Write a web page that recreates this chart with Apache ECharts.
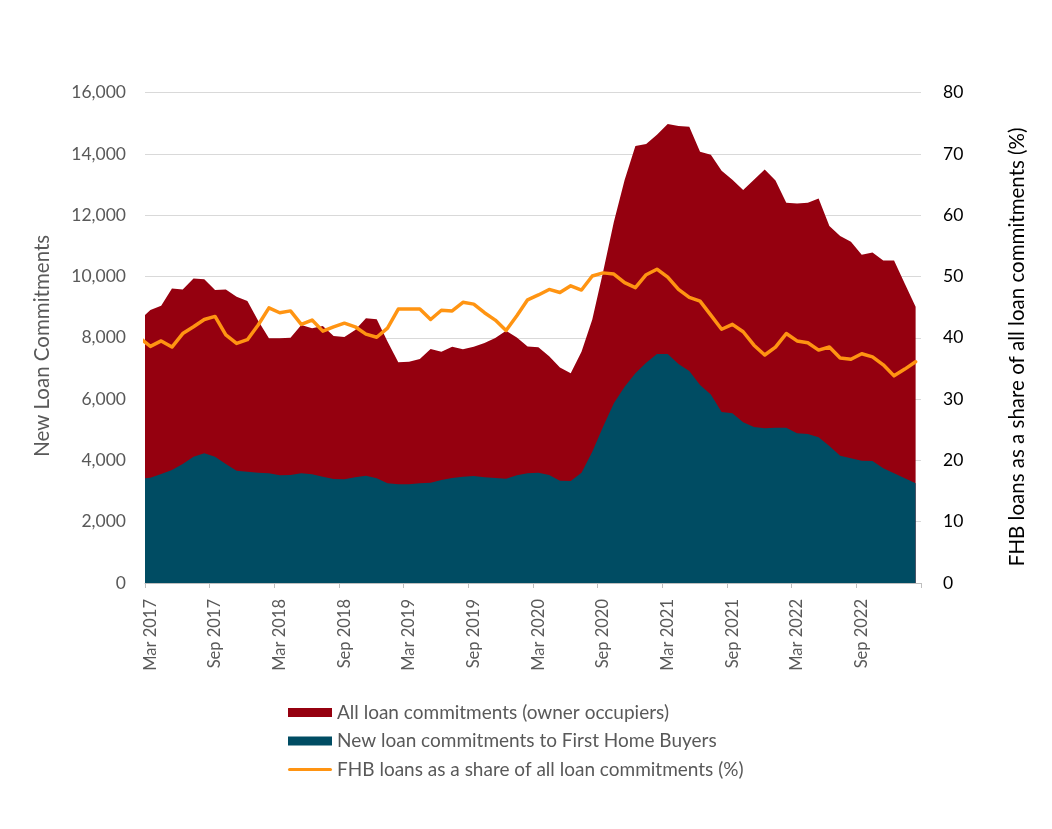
<!DOCTYPE html>
<html>
<head>
<meta charset="utf-8">
<script src="https://cdn.jsdelivr.net/npm/echarts@6/dist/echarts.min.js"></script>
<style>
  html, body { margin: 0; padding: 0; background: #ffffff; }
  #chart { width: 1052px; height: 829px; }
</style>
</head>
<body>
<div id="chart"></div>
<script>
// Monthly series, Feb 2017 – Feb 2023 (the Feb 2017 value sits just left of the plot edge)
const months = [
  'Feb 2017','Mar 2017','Apr 2017','May 2017','Jun 2017','Jul 2017','Aug 2017','Sep 2017','Oct 2017','Nov 2017','Dec 2017',
  'Jan 2018','Feb 2018','Mar 2018','Apr 2018','May 2018','Jun 2018','Jul 2018','Aug 2018','Sep 2018','Oct 2018','Nov 2018','Dec 2018',
  'Jan 2019','Feb 2019','Mar 2019','Apr 2019','May 2019','Jun 2019','Jul 2019','Aug 2019','Sep 2019','Oct 2019','Nov 2019','Dec 2019',
  'Jan 2020','Feb 2020','Mar 2020','Apr 2020','May 2020','Jun 2020','Jul 2020','Aug 2020','Sep 2020','Oct 2020','Nov 2020','Dec 2020',
  'Jan 2021','Feb 2021','Mar 2021','Apr 2021','May 2021','Jun 2021','Jul 2021','Aug 2021','Sep 2021','Oct 2021','Nov 2021','Dec 2021',
  'Jan 2022','Feb 2022','Mar 2022','Apr 2022','May 2022','Jun 2022','Jul 2022','Aug 2022','Sep 2022','Oct 2022','Nov 2022','Dec 2022',
  'Jan 2023','Feb 2023'
];

// All new loan commitments, owner occupiers (number)
const allLoans = [
  8580, 8907, 9050, 9614, 9580, 9940, 9910, 9560, 9580, 9340, 9200,
  8560, 7983, 7990, 8003, 8418, 8310, 8385, 8060, 8030, 8254, 8636, 8603,
  7880, 7200, 7222, 7308, 7635, 7548, 7711, 7624, 7711, 7830, 7995, 8228,
  8010, 7720, 7690, 7400, 7036, 6842, 7548, 8600, 10150, 11780, 13148, 14257,
  14330, 14630, 14976, 14910, 14888, 14072, 13975, 13450, 13160, 12822, 13160, 13496,
  13137, 12408, 12388, 12408, 12550, 11648, 11326, 11136, 10712, 10783, 10527, 10522,
  9766, 9015
];

// New loan commitments to first home buyers (number)
const fhbLoans = [
  3396, 3436, 3556, 3687, 3883, 4121, 4232, 4121, 3883, 3664, 3632,
  3599, 3578, 3513, 3524, 3578, 3546, 3468, 3390, 3383, 3449, 3501, 3416,
  3253, 3220, 3220, 3253, 3274, 3361, 3426, 3468, 3491, 3449, 3426, 3403,
  3513, 3578, 3599, 3524, 3338, 3328, 3599, 4284, 5100, 5863, 6405, 6842,
  7188, 7471, 7471, 7150, 6920, 6460, 6150, 5580, 5536, 5243, 5090, 5047,
  5067, 5067, 4884, 4861, 4753, 4470, 4154, 4068, 3990, 3985, 3742, 3578,
  3416, 3253
];

// First home buyer share of all commitments (%)
const fhbShare = [
  40.0, 38.6, 39.5, 38.5, 40.7, 41.8, 43.0, 43.5, 40.5, 39.1, 39.7,
  42.1, 44.9, 44.1, 44.4, 42.2, 42.9, 41.1, 41.8, 42.4, 41.8, 40.6, 40.1,
  41.6, 44.7, 44.7, 44.7, 43.0, 44.5, 44.4, 45.8, 45.5, 44.1, 42.9, 41.2,
  43.6, 46.2, 47.0, 47.9, 47.4, 48.5, 47.8, 50.1, 50.6, 50.4, 49.0, 48.2,
  50.3, 51.2, 49.9, 47.9, 46.6, 46.0, 43.7, 41.4, 42.2, 41.0, 38.8, 37.2,
  38.5, 40.7, 39.5, 39.2, 38.0, 38.5, 36.7, 36.5, 37.4, 36.9, 35.6, 33.8,
  34.9, 36.1
];

const seriesNames = [
  'All loan commitments (owner occupiers)',
  'New loan commitments to First Home Buyers',
  'FHB loans as a share of all loan commitments (%)'
];

const COLORS = { all: '#95000F', fhb: '#004C63', share: '#FF9412' };
const FONT = 'Lato';

// Each month occupies one unit on the x scale; month i is centred at i + 0.5,
// counted from Mar 2017, so the month boundaries fall on whole numbers.
const toPairs = arr => arr.map((v, i) => [i - 0.5, v]);
const axisMonths = months.slice(1);

const chart = echarts.init(document.getElementById('chart'), null, { renderer: 'canvas' });

chart.setOption({
  animation: false,
  backgroundColor: '#ffffff',
  textStyle: { fontFamily: FONT },
  grid: { left: 145, right: 131, top: 92.7, bottom: 246, containLabel: false },
  legend: {
    orient: 'vertical',
    left: 288,
    top: 702,
    padding: 0,
    itemWidth: 44,
    itemHeight: 9,
    itemGap: 7.5,
    textStyle: { color: '#595959', fontSize: 19, lineHeight: 21, fontFamily: FONT },
    data: [
      { name: seriesNames[0], icon: 'rect' },
      { name: seriesNames[1], icon: 'rect' },
      { name: seriesNames[2], icon: 'path://M1.5,0 L42.5,0 A1.5,1.5 0 0 1 42.5,3 L1.5,3 A1.5,1.5 0 0 1 1.5,0 Z' }
    ]
  },
  xAxis: [
    {
      type: 'value',
      min: 0,
      max: 72,
      interval: 6,
      axisLine: { show: true, lineStyle: { color: '#BFBFBF', width: 1 } },
      axisTick: { show: true, length: 5, lineStyle: { color: '#BFBFBF' } },
      axisLabel: { show: false },
      splitLine: { show: false }
    },
    {
      type: 'category',
      position: 'bottom',
      data: axisMonths,
      boundaryGap: true,
      axisLine: { show: false },
      axisTick: { show: false },
      splitLine: { show: false },
      axisLabel: {
        interval: 5,
        rotate: 90,
        margin: 16,
        color: '#595959',
        fontSize: 16.5,
        fontFamily: FONT
      }
    }
  ],
  yAxis: [
    {
      type: 'value',
      min: 0,
      max: 16000,
      interval: 2000,
      name: 'New Loan Commitments',
      nameLocation: 'middle',
      nameRotate: 90,
      nameGap: 92,
      nameTextStyle: { color: '#595959', fontSize: 20.5, fontFamily: FONT, padding: [0, 16, 0, 0] },
      axisLine: { show: false },
      axisTick: { show: false },
      axisLabel: {
        color: '#595959',
        fontSize: 17.5,
        margin: 19,
        fontFamily: FONT,
        formatter: v => v.toLocaleString('en-US')
      },
      splitLine: { show: true, lineStyle: { color: '#D9D9D9', width: 1 } }
    },
    {
      type: 'value',
      position: 'right',
      min: 0,
      max: 80,
      interval: 10,
      name: 'FHB loans as a share of all loan commitments (%)',
      nameLocation: 'middle',
      nameRotate: 90,
      nameGap: 86,
      nameTextStyle: { color: '#000000', fontSize: 20.5, fontFamily: FONT, padding: [0, 18, 0, 0] },
      axisLine: { show: false },
      axisTick: { show: false },
      axisLabel: { color: '#000000', fontSize: 17.5, margin: 22, fontFamily: FONT },
      splitLine: { show: false }
    }
  ],
  series: [
    {
      name: seriesNames[0],
      type: 'line',
      xAxisIndex: 0,
      yAxisIndex: 0,
      data: toPairs(allLoans),
      symbol: 'none',
      clip: true,
      z: 1,
      itemStyle: { color: COLORS.all },
      lineStyle: { width: 0, color: COLORS.all },
      areaStyle: { color: COLORS.all, opacity: 1 }
    },
    {
      name: seriesNames[1],
      type: 'line',
      xAxisIndex: 0,
      yAxisIndex: 0,
      data: toPairs(fhbLoans),
      symbol: 'none',
      clip: true,
      z: 2,
      itemStyle: { color: COLORS.fhb },
      lineStyle: { width: 0, color: COLORS.fhb },
      areaStyle: { color: COLORS.fhb, opacity: 1 }
    },
    {
      name: seriesNames[2],
      type: 'line',
      xAxisIndex: 0,
      yAxisIndex: 1,
      data: toPairs(fhbShare),
      symbol: 'none',
      clip: true,
      z: 3,
      itemStyle: { color: COLORS.share },
      lineStyle: { width: 3.5, color: COLORS.share, cap: 'round', join: 'round' }
    }
  ]
});
</script>
</body>
</html>
